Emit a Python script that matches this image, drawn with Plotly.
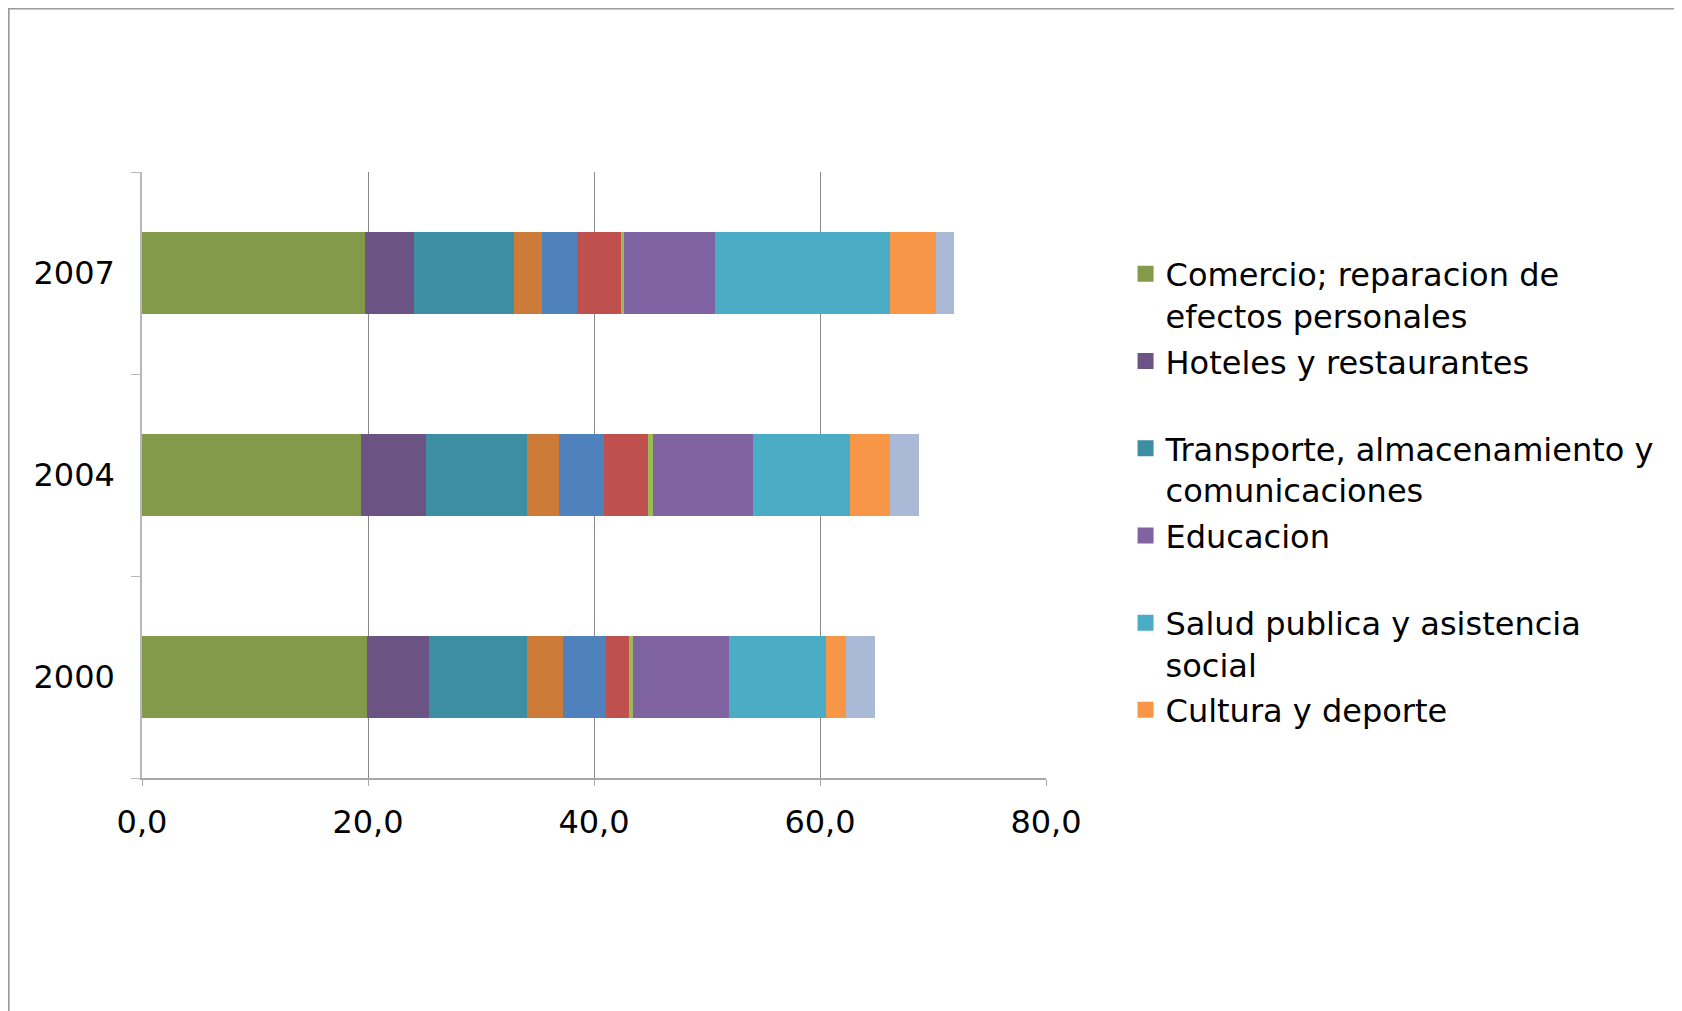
import plotly.graph_objects as go

years = ["2000", "2004", "2007"]

series_names = [
    "Comercio; reparacion de<br>efectos personales",
    "Hoteles y restaurantes<br> ",
    "Transporte, almacenamiento y<br>comunicaciones",
    "Intermediacion financiera",
    "Actividades inmobiliarias",
    "Administracion publica",
    "Servicios domesticos",
    "Educacion<br> ",
    "Salud publica y asistencia<br>social",
    "Cultura y deporte",
    "Otros servicios",
]
in_legend = [True, True, True, False, False, False, False, True, True, True, False]

colors = ["#839A4A", "#6B5384", "#3D8DA3", "#CC7B38", "#4F81BD", "#C0504D",
          "#9BBB59", "#8064A2", "#4BACC6", "#F79646", "#AAB9D6"]

# values per series for [2000, 2004, 2007]
values = [
    [19.90, 19.37, 19.73],
    [5.47, 5.74, 4.32],
    [8.74, 9.00, 8.83],
    [3.18, 2.83, 2.56],
    [3.79, 3.96, 3.09],
    [2.03, 3.89, 3.88],
    [0.35, 0.44, 0.26],
    [8.47, 8.83, 8.04],
    [8.56, 8.56, 15.44],
    [1.77, 3.53, 4.10],
    [2.65, 2.59, 1.60],
]

x_ticks = [0, 20, 40, 60, 80]

FONT = "DejaVu Sans"

fig = go.Figure()
for i, (name, vals, col) in enumerate(zip(series_names, values, colors)):
    fig.add_trace(go.Bar(
        y=years, x=vals, name=name, orientation="h",
        marker=dict(color=col, line=dict(width=0)),
        showlegend=False,
    ))
for i, (name, col, show) in enumerate(zip(series_names, colors, in_legend)):
    if show:
        fig.add_trace(go.Scatter(
            x=[None], y=[None], mode="markers", name=name,
            marker=dict(symbol="square", size=16, color=col),
            legendgroup="g%d" % i, showlegend=True,
        ))

# chart-area border (Excel style)
fig.add_shape(type="rect", xref="paper", yref="paper",
              x0=-0.1475, x1=1.75, y0=-0.45, y1=1.27,
              line=dict(color="#9A9A9A", width=2), fillcolor="rgba(0,0,0,0)",
              layer="below")

fig.update_layout(
    width=1682, height=1011,
    barmode="stack", bargap=0.59,
    separators=",.",
    paper_bgcolor="white", plot_bgcolor="white",
    margin=dict(l=134, r=644, t=164, b=241),
    font=dict(family=FONT, size=32, color="black"),
    legend=dict(
        x=1.088, y=0.877, xanchor="left", yanchor="top",
        traceorder="grouped", tracegroupgap=1, valign="top",
        font=dict(family=FONT, size=32, color="black"),
        bgcolor="rgba(0,0,0,0)",
    ),
    xaxis=dict(
        range=[0, 80], tickvals=x_ticks, tickformat=".1f",
        showgrid=True, gridcolor="#8A8A8A", gridwidth=1,
        showline=True, linecolor="#A8A8A8", linewidth=1.5,
        ticks="outside", ticklen=6, tickcolor="#A8A8A8",
        ticklabelstandoff=9, zeroline=False,
        tickfont=dict(family=FONT, size=32, color="black"),
    ),
    yaxis=dict(
        type="category", categoryorder="array", categoryarray=years,
        showline=True, linecolor="#B8B8B8", linewidth=1.5,
        ticks="outside", ticklen=9, tickcolor="#B8B8B8",
        tickson="boundaries", showgrid=False, zeroline=False,
        ticklabelstandoff=19,
        tickfont=dict(family=FONT, size=32, color="black"),
    ),
)

fig.write_html("out.html")
